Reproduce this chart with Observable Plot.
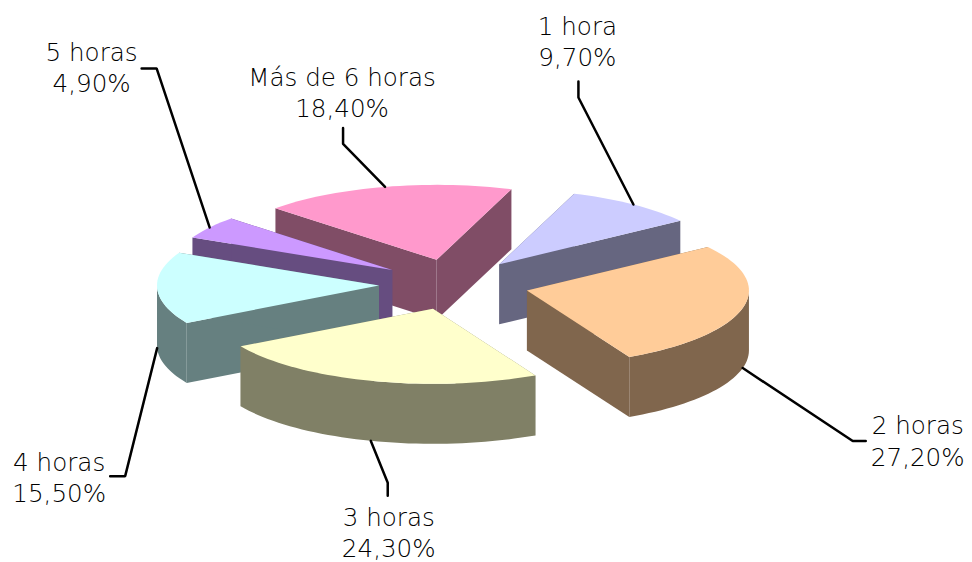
<!DOCTYPE html>
<html>
<head>
<meta charset="utf-8">
<script src="https://cdn.jsdelivr.net/npm/d3@7"></script>
<script src="https://cdn.jsdelivr.net/npm/@observablehq/plot@0.6"></script>
<style>
html,body{margin:0;padding:0;background:#fff}
svg{display:block}
</style>
</head>
<body>
<div id="chart"></div>
<script>
// Data
const categories = ["1 hora", "2 horas", "3 horas", "4 horas", "5 horas", "Más de 6 horas"];
const values = [9.7, 27.2, 24.3, 15.5, 4.9, 18.4];
const topColors = ["#CCCCFF", "#FFCC99", "#FFFFCC", "#CCFFFF", "#CC99FF", "#FF99CC"];
const sideColors = ["#666680", "#80664D", "#808066", "#668080", "#664D80", "#804D66"];

// Layout of the tilted, exploded pie
const W = 972, H = 562;
const cx = 453.5, cy = 284, rx = 222, ry = 75, depth = 60, explode = 0.338, startDeg = 19.7;
const paintOrder = [5, 0, 4, 3, 1, 2];
// label leader: offset of elbow and end from the anchor, label centre offset from anchor
const leaders = [
  {elbow: [-55, -107], end: [-55, -123], label: [-56, -164]},
  {elbow: [110, 73], end: [123, 73], label: [175, 72]},
  {elbow: [17, 42], end: [17, 55], label: [18, 91]},
  {elbow: [-32, 128], end: [-47, 128], label: [-98, 128]},
  {elbow: [-53, -159], end: [-68, -159], label: [-118, -161]},
  {elbow: [-42, -43], end: [-42, -59], label: [-43, -95]}
];

const rad = d => d * Math.PI / 180;
let acc = startDeg;
const slices = values.map((v, i) => {
  const a0 = acc, a1 = acc + v * 3.6;
  acc = a1;
  const mid = (a0 + a1) / 2;
  return {
    i, a0, a1, mid,
    ax: cx + explode * rx * Math.sin(rad(mid)),
    ay: cy - explode * ry * Math.cos(rad(mid))
  };
});
const rim = (s, a) => [s.ax + rx * Math.sin(rad(a)), s.ay - ry * Math.cos(rad(a))];
function arcPts(s, from, to) {
  const n = Math.max(2, Math.ceil(Math.abs(to - from) / 2));
  return d3.range(n + 1).map(k => rim(s, from + (to - from) * k / n));
}

const polys = [];
function addPoly(pts, fill) {
  const id = polys.length ? polys[polys.length - 1].id + 1 : 0;
  pts.forEach(p => polys.push({id, x: p[0], y: p[1], fill}));
}
function quad(p, q, fill) {
  addPoly([p, q, [q[0], q[1] + depth], [p[0], p[1] + depth]], fill);
}
for (const idx of paintOrder) {
  const s = slices[idx];
  const side = sideColors[idx], top = topColors[idx];
  const A = [s.ax, s.ay];
  // the two cut walls, back one first
  quad(A, rim(s, s.a0), side);
  quad(A, rim(s, s.a1), side);
  // outer wall: the front half of the rim only
  const lo = Math.max(s.a0, 90), hi = Math.min(s.a1, 270);
  if (hi > lo) {
    const front = arcPts(s, lo, hi);
    addPoly(front.concat(front.slice().reverse().map(p => [p[0], p[1] + depth])), side);
  }
  // top
  addPoly([A].concat(arcPts(s, s.a0, s.a1)), top);
}

// Leader anchors sit on the rim at each slice's mid angle (lower edge when the rim wall faces us)
const leaderRows = [];
const labelRows = [];
slices.forEach((s, i) => {
  const p = rim(s, s.mid);
  const front = s.mid > 90 && s.mid < 270;
  const a = [p[0], p[1] + (front ? depth : 0)];
  const L = leaders[i];
  [a, [a[0] + L.elbow[0], a[1] + L.elbow[1]], [a[0] + L.end[0], a[1] + L.end[1]]]
    .forEach(q => leaderRows.push({k: categories[i], x: q[0], y: q[1]}));
  labelRows.push({
    x: a[0] + L.label[0], y: a[1] + L.label[1],
    text: categories[i] + "\n" + values[i].toFixed(2).replace(".", ",") + "%"
  });
});

const chart = Plot.plot({
  width: W, height: H,
  margin: 0,
  style: {background: "#fff", overflow: "visible"},
  x: {domain: [0, W], range: [0, W], axis: null},
  y: {domain: [0, H], range: [0, H], axis: null},
  color: {type: "identity"},
  marks: [
    Plot.line(polys, {x: "x", y: "y", z: "id", fill: "fill", stroke: "none", curve: "linear-closed"}),
    Plot.line(leaderRows, {x: "x", y: "y", z: "k", stroke: "#000", strokeWidth: 2.5, strokeLinejoin: "miter"}),
    Plot.text(labelRows, {x: "x", y: "y", text: "text", fontSize: 24.6, fontWeight: 200, fontFamily: "DejaVu Sans", fill: "#000", lineHeight: 1.27, stroke: "none"})
  ]
});
document.getElementById("chart").appendChild(chart);
</script>
</body>
</html>
